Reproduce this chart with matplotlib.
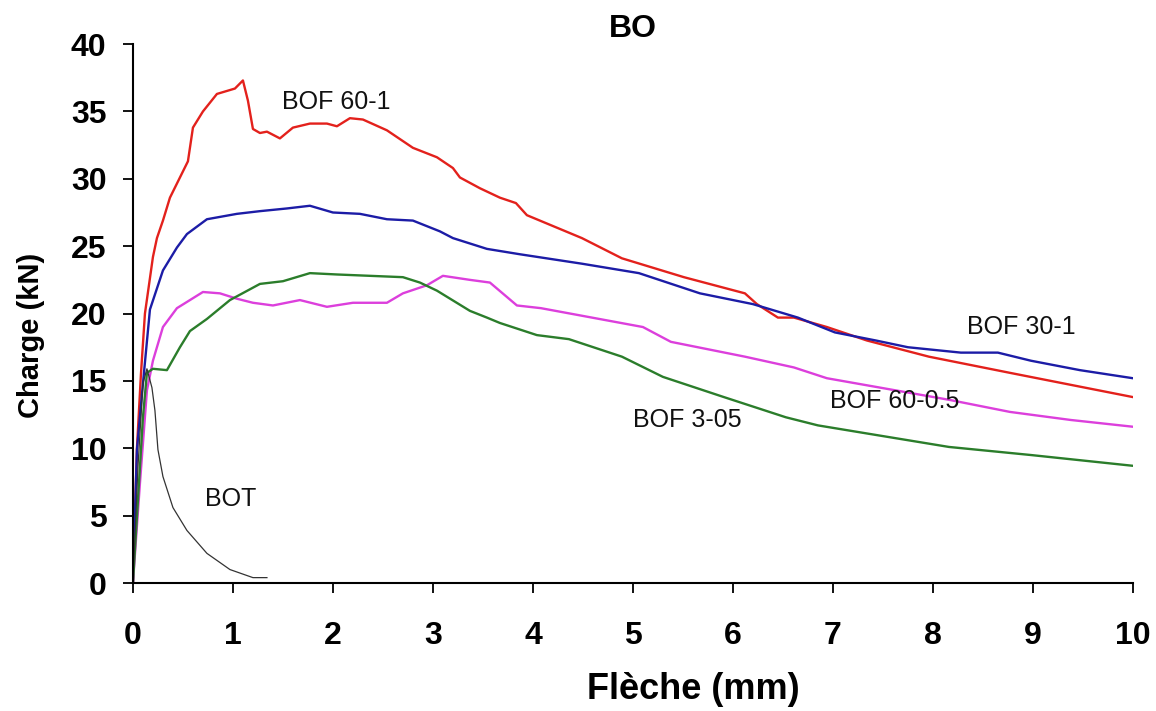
import matplotlib.pyplot as plt
import numpy as np

plt.rcParams["font.family"] = ["Liberation Sans", "DejaVu Sans"]

# Load-deflection curves (deflection in mm, load in kN)
bof60_1_x = [0, 0.04, 0.08, 0.12, 0.2, 0.24, 0.3, 0.37, 0.47, 0.55, 0.6, 0.7, 0.84, 1.02, 1.1,
             1.15, 1.2, 1.27, 1.34, 1.47, 1.6, 1.77, 1.94, 2.04, 2.17, 2.3, 2.54, 2.8, 3.04, 3.2,
             3.27, 3.47, 3.67, 3.83, 3.94, 4.49, 4.89, 5.51, 6.12, 6.24, 6.45, 6.61, 6.94, 7.34,
             7.96, 8.77, 10.0]
bof60_1_y = [0, 10, 15.5, 20, 24.2, 25.6, 26.9, 28.6, 30.1, 31.3, 33.8, 35.0, 36.3, 36.7, 37.3,
             35.8, 33.7, 33.4, 33.5, 33.0, 33.8, 34.1, 34.1, 33.9, 34.5, 34.4, 33.6, 32.3, 31.6, 30.8,
             30.1, 29.3, 28.6, 28.2, 27.3, 25.6, 24.1, 22.7, 21.5, 20.7, 19.7, 19.7, 19.0, 18.0,
             16.8, 15.6, 13.8]

bof30_1_x = [0, 0.04, 0.1, 0.17, 0.3, 0.44, 0.54, 0.74, 1.04, 1.27, 1.54, 1.77, 2.0, 2.27, 2.54,
             2.8, 3.07, 3.2, 3.54, 3.87, 4.49, 5.06, 5.67, 6.2, 6.65, 7.02, 7.43, 7.75, 8.28, 8.65,
             8.98, 9.47, 10.0]
bof30_1_y = [0, 9.9, 14.8, 20.3, 23.2, 24.9, 25.9, 27.0, 27.4, 27.6, 27.8, 28.0, 27.5, 27.4, 27.0,
             26.9, 26.1, 25.6, 24.8, 24.4, 23.7, 23.0, 21.5, 20.7, 19.7, 18.6, 18.0, 17.5, 17.1, 17.1,
             16.5, 15.8, 15.2]

bof60_05_x = [0, 0.07, 0.14, 0.2, 0.3, 0.44, 0.7, 0.87, 1.04, 1.2, 1.4, 1.67, 1.94, 2.2, 2.54,
              2.7, 2.94, 3.1, 3.37, 3.57, 3.84, 4.08, 5.1, 5.38, 6.12, 6.61, 6.94, 7.55, 8.16, 8.77,
              9.38, 10.0]
bof60_05_y = [0, 7.4, 14.3, 16.5, 19.0, 20.4, 21.6, 21.5, 21.1, 20.8, 20.6, 21.0, 20.5, 20.8, 20.8,
              21.5, 22.1, 22.8, 22.5, 22.3, 20.6, 20.4, 19.0, 17.9, 16.8, 16.0, 15.2, 14.4, 13.6, 12.7,
              12.1, 11.6]

bof3_05_x = [0, 0.1, 0.14, 0.2, 0.34, 0.47, 0.57, 0.74, 0.97, 1.27, 1.5, 1.77, 2.04, 2.37, 2.7,
             2.87, 3.04, 3.37, 3.54, 3.67, 4.04, 4.36, 4.89, 5.3, 5.91, 6.53, 6.85, 7.34, 8.16, 8.98,
             10.0]
bof3_05_y = [0, 12.3, 15.6, 15.9, 15.8, 17.5, 18.7, 19.6, 21.0, 22.2, 22.4, 23.0, 22.9, 22.8, 22.7,
             22.3, 21.7, 20.2, 19.7, 19.3, 18.4, 18.1, 16.8, 15.3, 13.8, 12.3, 11.7, 11.1, 10.1, 9.5,
             8.7]

bot_x = [0, 0.05, 0.1, 0.14, 0.19, 0.22, 0.25, 0.3, 0.4, 0.54, 0.74, 0.97, 1.2, 1.34]
bot_y = [0, 8.6, 14.8, 15.9, 14.5, 12.8, 9.9, 7.9, 5.6, 3.9, 2.2, 1.0, 0.4, 0.4]

series = [
    (bof60_1_x, bof60_1_y, "#e3211c", 1.7),
    (bof30_1_x, bof30_1_y, "#1c1ca6", 1.7),
    (bof60_05_x, bof60_05_y, "#dc3fdc", 1.7),
    (bof3_05_x, bof3_05_y, "#2b7d2b", 1.7),
    (bot_x, bot_y, "#333333", 0.9),
]

labels = ["BOF 60-1", "BOF 30-1", "BOF 60-0.5", "BOF 3-05", "BOT"]
label_x = [2.03, 8.88, 7.62, 5.54, 0.98]
label_y = [35.7, 19.0, 13.5, 12.1, 6.2]

fig = plt.figure(figsize=(11.56, 7.11), dpi=100)
ax = fig.add_axes([0.115, 0.180, 0.865, 0.758])

for xs, ys, color, lw in series:
    ax.plot(xs, ys, color=color, linewidth=lw)

for text, tx, ty in zip(labels, label_x, label_y):
    ax.text(tx, ty, text, ha="center", va="center", fontsize=18, color="#111111")

ax.set_xlim(0, 10)
ax.set_ylim(0, 40)
ax.set_xticks(np.arange(0, 11, 1))
ax.set_yticks(np.arange(0, 45, 5))
ax.spines["top"].set_visible(False)
ax.spines["right"].set_visible(False)
ax.spines["left"].set_linewidth(1.5)
ax.spines["bottom"].set_linewidth(1.5)
ax.tick_params(axis="both", direction="out", length=7, width=1.3, labelsize=23)
ax.tick_params(axis="x", pad=20)
ax.tick_params(axis="y", pad=12)
for lbl in ax.get_xticklabels() + ax.get_yticklabels():
    lbl.set_fontweight("bold")

ax.set_xlabel("Flèche (mm)", fontsize=26, fontweight="bold")
ax.xaxis.set_label_coords(0.56, -0.165)
ax.set_ylabel("Charge (kN)", fontsize=21, fontweight="bold")
ax.yaxis.set_label_coords(-0.088, 0.46)
ax.set_title("BO", fontsize=23, fontweight="bold", pad=4)

fig.savefig("out.png", dpi=100)
